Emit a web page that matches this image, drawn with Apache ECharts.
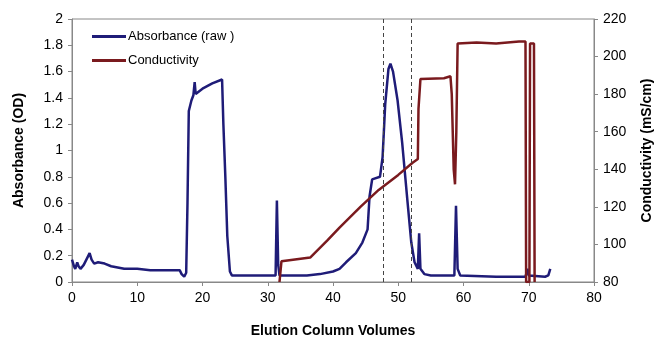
<!DOCTYPE html>
<html><head><meta charset="utf-8">
<script src="https://cdn.jsdelivr.net/npm/echarts@6/dist/echarts.min.js"></script>
<style>html,body{margin:0;padding:0;background:#fff}#c{width:656px;height:342px}</style>
</head><body><div id="c"></div>
<script>
var absX = [0,0.3,0.5,0.8,1.0,1.3,1.8,2.3,2.7,3.0,3.4,4.0,5.0,6.0,7.0,8.0,10.0,12.0,14.0,16.5,16.8,17.2,17.5,17.7,17.9,18.3,18.6,18.8,18.95,20,21.5,23.0,23.2,23.5,23.8,24.2,24.5,31.2,31.4,31.6,31.8,33,36,38,40,41,42,43.5,44.5,45.3,45.6,46,47.2,47.6,48.0,48.5,48.8,49.2,49.9,50.6,51.4,52.0,52.5,53.0,53.2,53.4,54,55,58.6,58.85,59.1,59.5,65,69.5,69.8,70,72.5,73.0,73.3];
var absY = [0.17,0.12,0.10,0.15,0.12,0.10,0.13,0.18,0.22,0.17,0.14,0.15,0.14,0.12,0.11,0.10,0.10,0.09,0.09,0.09,0.06,0.04,0.07,0.6,1.3,1.38,1.42,1.52,1.43,1.47,1.51,1.54,1.2,0.8,0.35,0.08,0.05,0.05,0.62,0.13,0.05,0.05,0.05,0.06,0.08,0.10,0.15,0.22,0.30,0.40,0.65,0.78,0.80,0.95,1.35,1.62,1.66,1.60,1.38,1.06,0.62,0.30,0.15,0.10,0.37,0.10,0.06,0.05,0.05,0.58,0.10,0.05,0.04,0.04,0.10,0.05,0.04,0.05,0.10];
var condX = [31.8,32.1,33,36.5,39.1,41,44.2,47,50,52.2,53.0,53.1,53.4,57,58.0,58.2,58.5,58.7,58.9,59.1,62,65,68.5,69.5,69.6,70.1,70.2,70.8,70.9];
var condY = [80,91,91.5,93,102,109,120,129,137,143.5,145.5,172,188,188.5,189.5,180,140,132,160,207,207.5,207,208,208,80,80,207,207,80];
var dashX = [47.7, 52.05];
var xTicks = [0,10,20,30,40,50,60,70,80];

function pairs(xs, ys){ return xs.map(function(x,i){return [x, ys[i]];}); }

var chart = echarts.init(document.getElementById('c'), null, {renderer:'canvas'});
var font = 'Liberation Sans, Arial, sans-serif';
chart.setOption({
  animation:false,
  grid:{left:72,right:62,top:19,bottom:60,outerBoundsMode:'none',containLabel:false,show:true,borderColor:'#888',borderWidth:1,backgroundColor:'#fff'},
  legend:{orient:'vertical',left:87,top:25,itemGap:11,itemWidth:34,itemHeight:3,icon:'rect',
    textStyle:{fontFamily:font,fontSize:13,color:'#000',padding:[0,0,0,-3]},
    data:['Absorbance (raw )','Conductivity']},
  xAxis:{type:'value',min:0,max:80,interval:10,
    name:'Elution Column Volumes',nameLocation:'middle',nameGap:42,
    nameTextStyle:{fontFamily:font,fontSize:14,fontWeight:'bold',color:'#000'},
    axisLine:{lineStyle:{color:'#888'}},axisTick:{show:true,length:4,lineStyle:{color:'#888'}},
    axisLabel:{fontFamily:font,fontSize:14,color:'#000',margin:9},splitLine:{show:false}},
  yAxis:[{type:'value',min:0,max:2,interval:0.2,
    name:'Absorbance (OD)',nameLocation:'middle',nameGap:46,
    nameTextStyle:{fontFamily:font,fontSize:14,fontWeight:'bold',color:'#000'},
    axisLine:{show:true,lineStyle:{color:'#888'}},axisTick:{show:true,length:4,lineStyle:{color:'#888'}},
    axisLabel:{fontFamily:font,fontSize:14,color:'#000',margin:9,formatter:function(v){return String(Math.round(v*10)/10);}},splitLine:{show:false}},
   {type:'value',min:80,max:220,interval:20,position:'right',
    name:'Conductivity (mS/cm)',nameLocation:'middle',nameGap:46,nameRotate:90,
    nameTextStyle:{fontFamily:font,fontSize:14,fontWeight:'bold',color:'#000'},
    axisLine:{show:true,lineStyle:{color:'#888'}},axisTick:{show:true,length:4,lineStyle:{color:'#888'}},
    axisLabel:{fontFamily:font,fontSize:14,color:'#000',margin:9},splitLine:{show:false}}],
  series:[
    {name:'Absorbance (raw )',type:'line',yAxisIndex:0,symbol:'none',data:pairs(absX,absY),
     lineStyle:{color:'#1f1c78',width:2.5},itemStyle:{color:'#1f1c78'},
     markLine:{silent:true,symbol:'none',label:{show:false},lineStyle:{color:'#444',type:[4,3],width:1},
       data:dashX.map(function(x){return {xAxis:x};})}},
    {name:'Conductivity',type:'line',yAxisIndex:1,symbol:'none',data:pairs(condX,condY),
     lineStyle:{color:'#7a1a1e',width:2.5},itemStyle:{color:'#7a1a1e'}}
  ]
});
</script></body></html>
